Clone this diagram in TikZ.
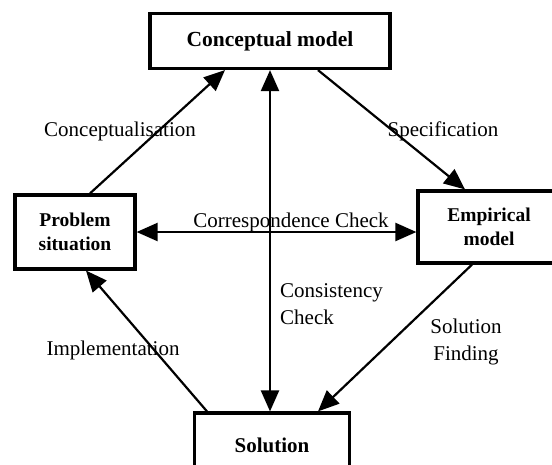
\documentclass[tikz,border=0pt]{standalone}
\usepackage{fontspec}
\setmainfont{Liberation Serif}
\usetikzlibrary{arrows.meta}
\begin{document}
\begin{tikzpicture}[x=1pt,y=-1pt,
  box/.style={draw=black,line width=3.2pt,fill=white,inner sep=0pt,font=\fontsize{19.5}{24}\selectfont\bfseries,align=center},
  lbl/.style={font=\fontsize{21}{27}\selectfont,inner sep=0pt,align=center},
  conn/.style={line width=2.2pt,-{Triangle[length=21pt,width=18pt]}},
  conn2/.style={line width=2.2pt,{Triangle[length=21pt,width=18pt]}-{Triangle[length=21pt,width=18pt]}}]
\useasboundingbox (0,0) rectangle (552,464);
\begin{scope}
\clip (0,0) rectangle (552,464);
\node[box,minimum width=240pt,minimum height=55pt] (cm) at (270,41) {\fontsize{21.5}{24}\selectfont Conceptual model};
\node[box,minimum width=120pt,minimum height=74pt] (ps) at (75,232) {Problem\\situation};
\node[box,minimum width=142pt,minimum height=72pt] (em) at (489,227) {Empirical\\model};
\node[box,minimum width=155pt,minimum height=64pt] (so) at (272,445) {\fontsize{21}{24}\selectfont Solution};

\draw[conn] (ps.north -| 90,0) -- (cm.south -| 225,0);
\draw[conn] (cm.south -| 318,0) -- (em.north -| 465,0);
\draw[conn] (em.south -| 472,0) -- (so.north -| 318,0);
\draw[conn] (so.north -| 207,0) -- (ps.south -| 86,0);
\draw[conn2] (ps.east |- 0,232) -- (em.west |- 0,232);
\draw[conn2] (cm.south -| 270,0) -- (so.north -| 270,0);

\node[lbl] (l1) at (120,131) {Conceptualisation};
\node[lbl] (l2) at (443,131) {Specification};
\node[lbl,anchor=base] (l3) at (291,227) {Correspondence Check};
\node[lbl,anchor=north west,align=left] (l4) at (280,283) {Consistency\\Check};
\node[lbl,anchor=north] (l5) at (466,319) {Solution\\Finding};
\node[lbl] (l6) at (113,350) {Implementation};
\end{scope}
\end{tikzpicture}
\end{document}
